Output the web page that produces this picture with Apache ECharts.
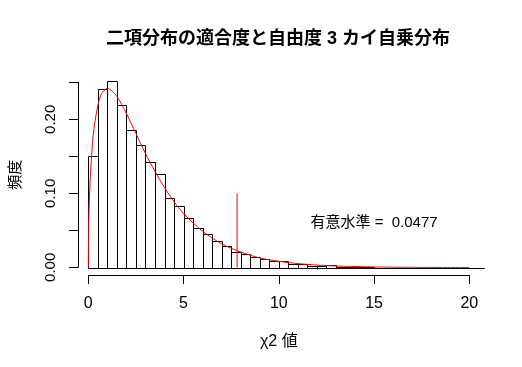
<!DOCTYPE html>
<html><head><meta charset="utf-8">
<script src="https://cdn.jsdelivr.net/npm/echarts@6/dist/echarts.min.js"></script>
<style>html,body{margin:0;padding:0;background:#fff}#c{width:522px;height:367px}</style>
</head><body><div id="c"></div>
<script>
// Histogram: bins of width 0.5 starting at 0 (density)
const binStart = 0;
const binWidth = 0.5;
const lastBreak = 20.77;
const densities = [
  0.150, 0.2405, 0.2514, 0.2194, 0.1851, 0.1649, 0.1423, 0.1270, 0.0937, 0.0829,
  0.0667, 0.0532, 0.0450, 0.0356, 0.0288, 0.0205, 0.0183, 0.0140, 0.0115, 0.0094,
  0.0083, 0.0054, 0.0042, 0.0027, 0.0025, 0.0028, 0.0012, 0.0010, 0.0008, 0.0004,
  0, 0, 0, 0, 0, 0, 0, 0, 0, 0, 0, 0
];
// Fitted chi-square (df = 3) density curve
const curveX = [0, 0.02, 0.05, 0.1, 0.2, 0.3, 0.5, 0.7, 1, 1.5, 2, 2.5, 3, 3.5, 4, 4.5, 5, 6, 7, 8, 9, 10, 11, 12, 13, 14, 15, 17, 20];
const curveY = [0, 0.056, 0.087, 0.120, 0.161, 0.188, 0.219, 0.235, 0.242, 0.231, 0.208, 0.181, 0.154, 0.130, 0.108, 0.089, 0.073, 0.049, 0.032, 0.021, 0.013, 0.0085, 0.0054, 0.0034, 0.0021, 0.0014, 0.0008, 0.0003, 0.0001];
// Critical value line
const critX = [7.81, 7.81];
const critY = [0, 0.10];
// Annotation
const noteText = '有意水準 =  0.0477';
const notePos = [15, 0.06];
// Axis ticks
const xTicks = [0, 5, 10, 15, 20];
const yTickLabels = ['0.00', '0.10', '0.20'];

const titleText = '二項分布の適合度と自由度 3 カイ自乗分布';
const xName = 'χ2 値';
const yName = '頻度';

const FONT = '"Liberation Sans", "Noto Sans CJK JP", sans-serif';

const bins = densities.map((d, i) => {
  const s = binStart + i * binWidth;
  return [s, Math.min(s + binWidth, lastBreak), d];
});

const chart = echarts.init(document.getElementById('c'), null, {renderer: 'canvas'});

const dataGrid = {left: 72.5, top: 74, width: 427.3, height: 201};
chart.setOption({
  animation: false,
  backgroundColor: '#fff',
  title: {
    text: titleText, left: 106, top: 30.5, padding: 0,
    textStyle: {fontFamily: FONT, fontSize: 18, fontWeight: 'bold', color: '#000'}
  },
  grid: [
    dataGrid,
    {left: 88.3, top: 74, width: 381, height: 201},
    {left: 73.3, top: 82.3, width: 427, height: 185}
  ],
  xAxis: [
    {gridIndex: 0, type: 'value', min: -0.83, max: 21.6, show: false},
    {gridIndex: 1, type: 'value', min: 0, max: 20, interval: 5, position: 'bottom',
     axisLine: {show: true, lineStyle: {color: '#000', width: 1}},
     axisTick: {show: true, length: 9, inside: false, lineStyle: {color: '#000'}},
     axisLabel: {margin: 21, fontFamily: FONT, fontSize: 16, color: '#000',
                 formatter: v => xTicks.includes(v) ? String(v) : ''},
     splitLine: {show: false},
     name: xName, nameLocation: 'middle', nameGap: 59,
     nameTextStyle: {fontFamily: FONT, fontSize: 16, color: '#000'}},
    {gridIndex: 2, type: 'value', min: 0, max: 1, show: false}
  ],
  yAxis: [
    {gridIndex: 0, type: 'value', min: -0.01006, max: 0.2614, show: false},
    {gridIndex: 1, type: 'value', min: 0, max: 1, show: false},
    {gridIndex: 2, type: 'value', min: 0, max: 0.25, interval: 0.05, position: 'left',
     axisLine: {show: true, lineStyle: {color: '#000', width: 1}},
     axisTick: {show: true, length: 9, lineStyle: {color: '#000'}},
     axisLabel: {margin: 20, rotate: 90, fontFamily: FONT, fontSize: 15, color: '#000',
                 formatter: v => { const s = v.toFixed(2); return yTickLabels.includes(s) ? s : ''; }},
     splitLine: {show: false},
     name: yName, nameLocation: 'middle', nameGap: 55, nameRotate: 90,
     nameTextStyle: {fontFamily: FONT, fontSize: 15, color: '#000'}}
  ],
  series: [
    {
      type: 'custom', xAxisIndex: 0, yAxisIndex: 0, data: bins,
      renderItem: (params, api) => {
        const p0 = api.coord([api.value(0), 0]);
        const p1 = api.coord([api.value(1), api.value(2)]);
        const x = Math.round(p0[0]) + 0.5, x2 = Math.round(p1[0]) + 0.5;
        const y0 = Math.round(p0[1]) + 0.5, y1 = Math.round(p1[1]) + 0.5;
        return {type: 'rect', shape: {x: x, y: y1, width: x2 - x, height: y0 - y1},
                style: {fill: 'none', stroke: '#000', lineWidth: 1}};
      },
      silent: true
    },
    {
      type: 'line', xAxisIndex: 0, yAxisIndex: 0, smooth: 0.3, showSymbol: false,
      data: curveX.map((x, i) => [x, curveY[i]]),
      lineStyle: {color: '#ff0000', width: 1}, silent: true
    },
    {
      type: 'line', xAxisIndex: 0, yAxisIndex: 0, showSymbol: false,
      data: critX.map((x, i) => [x, critY[i]]),
      lineStyle: {color: '#ff0000', width: 1}, silent: true
    },
    {
      type: 'scatter', xAxisIndex: 0, yAxisIndex: 0, symbolSize: 0,
      itemStyle: {opacity: 1},
      data: [notePos],
      label: {show: true, position: 'inside', formatter: noteText,
              fontFamily: FONT, fontSize: 15, color: '#000', opacity: 1, textBorderWidth: 0},
      silent: true
    }
  ]
});
</script></body></html>
